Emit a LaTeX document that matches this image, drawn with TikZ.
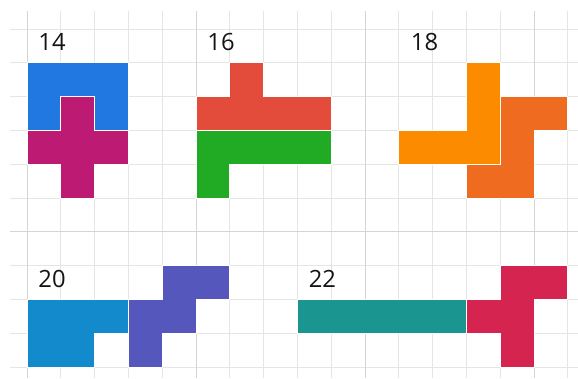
\documentclass[tikz,border=0pt]{standalone}
\usepackage{fontspec}
\setmainfont{Open Sans}
\definecolor{blueA}{HTML}{2178E0}
\definecolor{magentaA}{HTML}{BC1A73}
\definecolor{redA}{HTML}{E34B3B}
\definecolor{greenA}{HTML}{21AA23}
\definecolor{orangeA}{HTML}{FD8B00}
\definecolor{orangeB}{HTML}{EE6B20}
\definecolor{blueB}{HTML}{128ACC}
\definecolor{purpleA}{HTML}{5557BC}
\definecolor{tealA}{HTML}{1A9590}
\definecolor{crimsonA}{HTML}{D62450}
\begin{document}
\begin{tikzpicture}[y=-1cm,
    gridline/.style={draw=black!10, line width=0.8pt},
    gridmajor/.style={draw=black!17, line width=0.9pt},
    piece/.style={draw=white, line width=0.7pt, line join=miter},
    tag/.style={anchor=west, inner sep=0pt, font=\fontsize{20}{20}\selectfont, text=black!92}]
    \useasboundingbox (-0.8, -0.86) rectangle (16.3, 10.33);

    % --- Grid ---
    \foreach \j in {0,...,10} \draw[gridline] (-0.5, \j) -- (16.3, \j);
    \foreach \i in {0,...,16} \draw[gridline] (\i, -0.53) -- (\i, 10.33);
    \foreach \i in {0, 5, 10, 15} \draw[gridmajor] (\i, -0.53) -- (\i, 10.33);
    \draw[gridmajor] (-0.5, 6) -- (16.3, 6);

    % --- Top row: 14, 16, 18 ---
    \node[tag] (t14) at (0.33, 0.37) {14};
    \fill[blueA, piece] (0,1) -- (3,1) -- (3,3) -- (2,3) -- (2,2) -- (1,2) -- (1,3) -- (0,3) -- cycle;
    \fill[magentaA, piece] (1,2) -- (2,2) -- (2,3) -- (3,3) -- (3,4) -- (2,4) -- (2,5) -- (1,5)
        -- (1,4) -- (0,4) -- (0,3) -- (1,3) -- cycle;

    \node[tag] (t16) at (5.33, 0.37) {16};
    \fill[redA, piece] (6,1) -- (7,1) -- (7,2) -- (9,2) -- (9,3) -- (5,3) -- (5,2) -- (6,2) -- cycle;
    \fill[greenA, piece] (5,3) -- (9,3) -- (9,4) -- (6,4) -- (6,5) -- (5,5) -- cycle;

    \node[tag] (t18) at (11.35, 0.37) {18};
    \fill[orangeA, piece] (13,1) -- (14,1) -- (14,4) -- (11,4) -- (11,3) -- (13,3) -- cycle;
    \fill[orangeB, piece] (14,2) -- (16,2) -- (16,3) -- (15,3) -- (15,5) -- (13,5) -- (13,4) -- (14,4) -- cycle;

    % --- Bottom row: 20, 22 ---
    \node[tag] (t20) at (0.33, 7.38) {20};
    \fill[blueB, piece] (0,8) -- (3,8) -- (3,9) -- (2,9) -- (2,10) -- (0,10) -- cycle;
    \fill[purpleA, piece] (4,7) -- (6,7) -- (6,8) -- (5,8) -- (5,9) -- (4,9) -- (4,10) -- (3,10)
        -- (3,8) -- (4,8) -- cycle;

    \node[tag] (t22) at (8.33, 7.38) {22};
    \fill[tealA, piece] (8,8) rectangle (13,9);
    \fill[crimsonA, piece] (14,7) -- (16,7) -- (16,8) -- (15,8) -- (15,10) -- (14,10) -- (14,9)
        -- (13,9) -- (13,8) -- (14,8) -- cycle;
\end{tikzpicture}
\end{document}
